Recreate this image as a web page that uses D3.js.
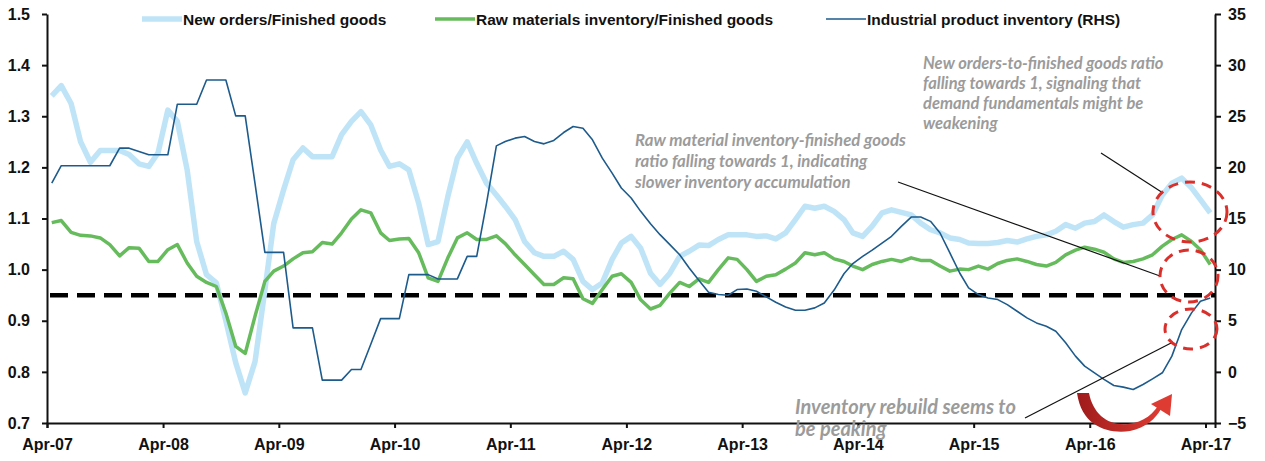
<!DOCTYPE html>
<html>
<head>
<meta charset="utf-8">
<script src="https://cdn.jsdelivr.net/npm/d3@7"></script>
<style>
  html, body { margin: 0; padding: 0; background: #fff; }
  svg { display: block; font-family: "Liberation Sans", Arial, sans-serif; }
  .axis text { font-size: 16px; font-weight: bold; fill: #111; }
  .axis path, .axis line { stroke: #111; stroke-width: 2; }
  .legend text { font-size: 15.5px; font-weight: bold; fill: #111; }
  .note { font-family: Lato, "Open Sans", sans-serif; font-style: italic; font-weight: bold; fill: #9b9b9b; }
</style>
</head>
<body>
<div id="chart"></div>
<script>
// monthly, Apr-07 .. Apr-17
const months = d3.timeMonth.range(new Date(2007, 3, 1), new Date(2017, 4, 1));
const xTickLabels = ["Apr-07", "Apr-08", "Apr-09", "Apr-10", "Apr-11", "Apr-12", "Apr-13", "Apr-14", "Apr-15", "Apr-16", "Apr-17"];
const leftTicks = [0.7, 0.8, 0.9, 1.0, 1.1, 1.2, 1.3, 1.4, 1.5];
const rightTicks = [-5, 0, 5, 10, 15, 20, 25, 30, 35];
const threshold = 0.95;

const newOrders = [
  1.34, 1.36, 1.325, 1.25, 1.21, 1.233, 1.233, 1.233, 1.225, 1.207, 1.202, 1.228,
  1.312, 1.29, 1.195, 1.055, 0.99, 0.974, 0.90, 0.818, 0.759, 0.82, 0.96, 1.09,
  1.156, 1.215, 1.238, 1.221, 1.221, 1.221, 1.264, 1.29, 1.309, 1.283, 1.234, 1.202,
  1.207, 1.195, 1.13, 1.049, 1.055, 1.143, 1.218, 1.25, 1.208, 1.169, 1.146, 1.124,
  1.098, 1.055, 1.033, 1.026, 1.026, 1.036, 1.02, 0.977, 0.961, 0.974, 1.02, 1.052,
  1.065, 1.042, 0.993, 0.971, 0.993, 1.026, 1.036, 1.048, 1.047, 1.059, 1.068, 1.068,
  1.068, 1.065, 1.066, 1.06, 1.072, 1.098, 1.124, 1.12, 1.124, 1.114, 1.098, 1.072,
  1.065, 1.085, 1.111, 1.117, 1.112, 1.107, 1.091, 1.078, 1.072, 1.062, 1.059, 1.052,
  1.051, 1.051, 1.053, 1.057, 1.054, 1.06, 1.065, 1.068, 1.075, 1.088, 1.081, 1.091,
  1.094, 1.107, 1.094, 1.083, 1.088, 1.091, 1.107, 1.146, 1.169, 1.179, 1.16, 1.137,
  1.111
];

const rawMaterials = [
  1.092, 1.096, 1.073, 1.067, 1.066, 1.062, 1.049, 1.027, 1.043, 1.042, 1.016, 1.016,
  1.039, 1.049, 1.013, 0.987, 0.975, 0.967, 0.915, 0.85, 0.836, 0.909, 0.977, 0.997,
  1.007, 1.021, 1.033, 1.035, 1.053, 1.05, 1.072, 1.099, 1.117, 1.111, 1.072, 1.057,
  1.06, 1.061, 1.033, 0.984, 0.977, 1.023, 1.062, 1.072, 1.059, 1.059, 1.066, 1.051,
  1.029, 1.01, 0.99, 0.971, 0.971, 0.984, 0.982, 0.943, 0.934, 0.961, 0.987, 0.992,
  0.975, 0.941, 0.923, 0.93, 0.954, 0.975, 0.967, 0.982, 0.975, 1.0, 1.023, 1.02,
  1.0, 0.977, 0.987, 0.99, 1.001, 1.013, 1.033, 1.029, 1.033, 1.021, 1.016, 1.007,
  1.0, 1.01, 1.016, 1.02, 1.016, 1.023, 1.018, 1.018, 1.007, 0.997, 1.001, 1.0,
  1.007, 1.001, 1.012, 1.018, 1.021, 1.016, 1.01, 1.007, 1.014, 1.029, 1.038, 1.044,
  1.04, 1.034, 1.021, 1.014, 1.016, 1.021, 1.029, 1.046, 1.059, 1.068, 1.055, 1.039,
  1.01
];

const productInventory = [
  18.46, 20.16, 20.16, 20.16, 20.16, 20.16, 20.16, 21.88, 21.88, 21.55, 21.23, 21.23,
  21.23, 26.18, 26.18, 26.18, 28.55, 28.55, 28.55, 25.04, 25.04, 18.4, 11.69, 11.69,
  11.69, 4.30, 4.30, 4.30, -0.81, -0.81, -0.81, 0.23, 0.23, 2.7, 5.21, 5.21,
  5.21, 9.51, 9.51, 9.51, 9.09, 9.09, 9.09, 11.30, 11.30, 16.5, 22.1, 22.53,
  22.86, 23.02, 22.53, 22.3, 22.63, 23.41, 24.0, 23.83, 22.7, 20.9, 19.44, 17.98,
  17.0, 15.7, 14.49, 13.42, 12.44, 11.46, 10.16, 8.93, 7.79, 7.56, 7.49, 8.05,
  8.11, 7.88, 7.33, 6.81, 6.35, 6.03, 6.03, 6.26, 6.74, 8.0, 9.6, 10.59,
  11.3, 11.9, 12.6, 13.26, 14.23, 15.14, 15.14, 14.72, 13.58, 11.63, 9.67, 8.21,
  7.56, 7.23, 7.07, 6.58, 5.93, 5.28, 4.79, 4.47, 3.98, 2.84, 1.54, 0.56,
  -0.09, -0.74, -1.33, -1.49, -1.72, -1.23, -0.68, -0.09, 1.54, 4.14, 5.77, 6.91,
  7.23
];

const width = 1265;
const height = 461;
const margin = { top: 14, right: 50, bottom: 38, left: 47 };

const svg = d3.select("#chart").append("svg")
  .attr("width", width)
  .attr("height", height);

const x = d3.scaleTime()
  .domain([new Date(2007, 3, 1), new Date(2017, 4, 1)])
  .range([margin.left, width - margin.right]);
const yL = d3.scaleLinear().domain([0.7, 1.5]).range([height - margin.bottom, margin.top]);
const yR = d3.scaleLinear().domain([-5, 35]).range([height - margin.bottom, margin.top]);

// points sit in the middle of their month
const midMonth = (m) => new Date(m.getFullYear(), m.getMonth(), 16);

// axes
const xTickDates = xTickLabels.map((_, i) => new Date(2007 + i, 3, 1));
svg.append("g")
  .attr("class", "axis")
  .attr("transform", `translate(0,${height - margin.bottom})`)
  .call(d3.axisBottom(x).tickValues(xTickDates).tickSizeOuter(0).tickSize(5).tickPadding(11)
    .tickFormat((d, i) => xTickLabels[i]));

svg.append("g")
  .attr("class", "axis")
  .attr("transform", `translate(${margin.left},0)`)
  .call(d3.axisLeft(yL).tickValues(leftTicks).tickSize(5).tickSizeOuter(0).tickPadding(12)
    .tickFormat(d3.format(".1f")));

svg.append("g")
  .attr("class", "axis")
  .attr("transform", `translate(${width - margin.right},0)`)
  .call(d3.axisRight(yR).tickValues(rightTicks).tickSize(6).tickSizeOuter(0).tickPadding(7));

// threshold line
svg.append("line")
  .attr("x1", margin.left + 3).attr("x2", width - margin.right)
  .attr("y1", yL(threshold)).attr("y2", yL(threshold))
  .attr("stroke", "#000").attr("stroke-width", 4.5)
  .attr("stroke-dasharray", "18,9");

const lineL = (vals) => d3.line()
  .x((d, i) => x(midMonth(months[i])))
  .y((d) => yL(d))(vals);

svg.append("path")
  .attr("d", lineL(newOrders))
  .attr("fill", "none").attr("stroke", "#bfe4f8").attr("stroke-width", 5.5)
  .attr("stroke-linejoin", "round");

svg.append("path")
  .attr("d", lineL(rawMaterials))
  .attr("fill", "none").attr("stroke", "#66bb5c").attr("stroke-width", 3.5)
  .attr("stroke-linejoin", "round");

svg.append("path")
  .attr("d", d3.line().x((d, i) => x(midMonth(months[i]))).y((d) => yR(d))(productInventory))
  .attr("fill", "none").attr("stroke", "#1d5b8c").attr("stroke-width", 1.6)
  .attr("stroke-linejoin", "round");

// legend
const legendItems = [
  { label: "New orders/Finished goods", color: "#bfe4f8", w: 5.5, x: 142 },
  { label: "Raw materials inventory/Finished goods", color: "#66bb5c", w: 3.5, x: 435 },
  { label: "Industrial product inventory (RHS)", color: "#1d5b8c", w: 1.6, x: 826 },
];
const legend = svg.append("g").attr("class", "legend");
legendItems.forEach((it) => {
  legend.append("line")
    .attr("x1", it.x).attr("x2", it.x + 40).attr("y1", 19).attr("y2", 19)
    .attr("stroke", it.color).attr("stroke-width", it.w);
  legend.append("text").attr("x", it.x + 41).attr("y", 25).text(it.label);
});

// annotations
const notes = [
  { lines: ["New orders-to-finished goods ratio", "falling towards 1, signaling that", "demand fundamentals might be", "weakening"], x: 923, y: 69, size: 16.5, lh: 20 },
  { lines: ["Raw material inventory-finished goods", "ratio falling towards 1, indicating", "slower inventory accumulation"], x: 635, y: 146, size: 16.8, lh: 21 },
  { lines: ["Inventory rebuild seems to", "be peaking"], x: 795, y: 414, size: 20, lh: 22 },
];
notes.forEach((n) => {
  const t = svg.append("text").attr("class", "note").style("font-size", `${n.size}px`);
  n.lines.forEach((l, i) => {
    t.append("tspan").attr("x", n.x).attr("y", n.y + i * n.lh).text(l);
  });
});

const pointers = [
  [[1101, 153], [1163, 193]],
  [[898, 182], [1160, 276]],
  [[1025, 418], [1173, 342]],
];
pointers.forEach((p) => {
  svg.append("line")
    .attr("x1", p[0][0]).attr("y1", p[0][1]).attr("x2", p[1][0]).attr("y2", p[1][1])
    .attr("stroke", "#111").attr("stroke-width", 1.2);
});

const circles = [
  { cx: 1190, cy: 212, rx: 37, ry: 30 },
  { cx: 1189, cy: 276, rx: 29, ry: 26 },
  { cx: 1191, cy: 329, rx: 26, ry: 20 },
];
circles.forEach((c) => {
  svg.append("ellipse")
    .attr("cx", c.cx).attr("cy", c.cy).attr("rx", c.rx).attr("ry", c.ry)
    .attr("fill", "none").attr("stroke", "#d9302c").attr("stroke-width", 3)
    .attr("stroke-dasharray", "10,7");
});

// curved arrow
const defs = svg.append("defs");
const grad = defs.append("linearGradient").attr("id", "arrowGrad")
  .attr("x1", "0%").attr("x2", "100%").attr("y1", "0%").attr("y2", "0%");
grad.append("stop").attr("offset", "0%").attr("stop-color", "#9e1b1b");
grad.append("stop").attr("offset", "100%").attr("stop-color", "#de3b33");

svg.append("path")
  .attr("d", "M1077,393 C1082,428 1110,434 1130,431 C1146,428 1156,418 1161,409 L1161,401 C1154,414 1144,422 1128,424 C1108,426 1093,414 1089,393 Z")
  .attr("fill", "url(#arrowGrad)");
svg.append("path")
  .attr("d", "M1151,404 L1172,394 L1170,416 Z")
  .attr("fill", "#de3b33");
</script>
</body>
</html>
